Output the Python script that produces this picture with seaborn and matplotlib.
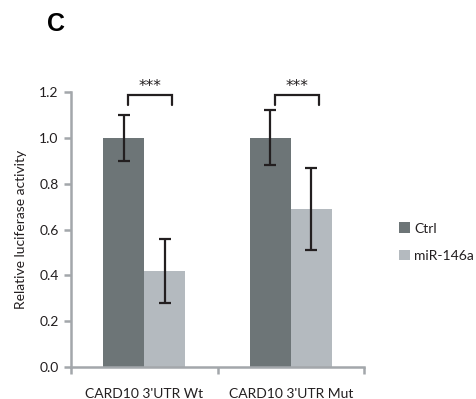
import matplotlib
matplotlib.use("Agg")
import matplotlib.pyplot as plt
import seaborn as sns
import pandas as pd
import numpy as np
from matplotlib.patches import Patch

categories = ["CARD10 3'UTR Wt", "CARD10 3'UTR Mut"]
groups = ["Ctrl", "miR-146a"]
ctrl_vals = [1.0, 1.0]
mir_vals = [0.42, 0.69]
ctrl_err = [0.10, 0.12]
mir_err = [0.14, 0.18]
yticks = [0.0, 0.2, 0.4, 0.6, 0.8, 1.0, 1.2]
sig_labels = ["***", "***"]

colors = {"Ctrl": "#6d7577", "miR-146a": "#b4babf"}
axis_color = "#a3a7ab"
ink = "#231f20"

df = pd.DataFrame({
    "category": categories * 2,
    "group": [groups[0]] * 2 + [groups[1]] * 2,
    "value": ctrl_vals + mir_vals,
    "err": ctrl_err + mir_err,
})

sns.set_theme(style="white")
plt.rcParams["font.family"] = ["Lato", "DejaVu Sans"]

fig = plt.figure(figsize=(4.77, 3.99), dpi=100)
ax = fig.add_axes([0.149, 0.0802, 0.614, 0.689])

sns.barplot(data=df, x="category", y="value", hue="group", order=categories,
            hue_order=groups, palette=colors, width=0.56, errorbar=None,
            linewidth=0, saturation=1, legend=False, ax=ax)

# error bars
for i, g in enumerate(groups):
    for j, c in enumerate(categories):
        row = df[(df.category == c) & (df.group == g)].iloc[0]
        x = j + (-0.14 if i == 0 else 0.14)
        ax.errorbar(x, row.value, yerr=row.err, fmt="none", ecolor=ink,
                    elinewidth=1.6, capsize=4, capthick=1.6, zorder=5)

# significance brackets
for j, lab in enumerate(sig_labels):
    x0, x1 = j - 0.11, j + 0.19
    yb, yt = 1.144, 1.186
    ax.plot([x0, x0, x1, x1], [yb, yt, yt, yb], color=ink, lw=1.6,
            clip_on=False, solid_joinstyle="miter", zorder=6)
    ax.text((x0 + x1) / 2, yt + 0.004, lab, ha="center", va="bottom",
            fontsize=11, color=ink, clip_on=False, family="DejaVu Sans")

ax.set_xlim(-0.5, 1.5)
ax.set_ylim(0, 1.2)
ax.set_yticks(yticks)
ax.set_yticklabels([f"{t:.1f}" for t in yticks])
ax.set_xticks([-0.5, 0.5, 1.5], minor=True)
ax.tick_params(axis="x", which="major", length=0, pad=15, labelsize=10, labelcolor=ink)
ax.tick_params(axis="x", which="minor", length=5, width=1.8, color=axis_color, direction="out", bottom=True)
ax.tick_params(axis="y", length=5, width=1.8, color=axis_color, direction="out", left=True,
               pad=4, labelsize=10, labelcolor=ink)
ax.set_xlabel("")
ax.set_ylabel("Relative luciferase activity", fontsize=10, color=ink, labelpad=9)

for s in ["top", "right"]:
    ax.spines[s].set_visible(False)
for s in ["left", "bottom"]:
    ax.spines[s].set_color(axis_color)
    ax.spines[s].set_linewidth(1.8)

handles = [Patch(facecolor=colors[g], edgecolor="none", label=g) for g in groups]
fig.legend(handles=handles, loc="center left", bbox_to_anchor=(0.81, 0.393),
           frameon=False, fontsize=10, handlelength=0.8, handleheight=0.8,
           handletextpad=0.3, labelspacing=1.1, labelcolor=ink)

fig.text(0.098, 0.94, "C", fontsize=18, fontweight="bold", family="Liberation Sans",
         ha="left", va="center", color="black")

fig.savefig("out.png", dpi=100)
